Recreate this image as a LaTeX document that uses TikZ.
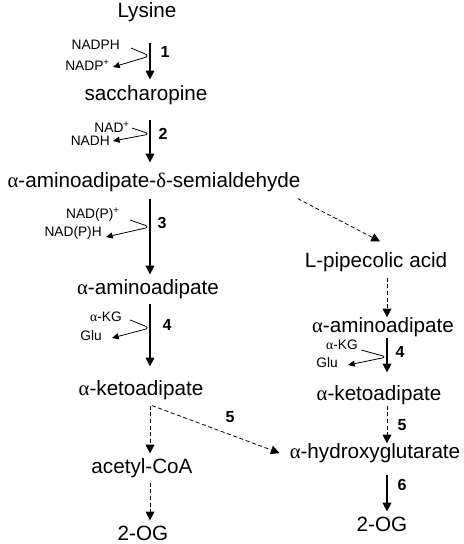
\documentclass[tikz,border=0pt]{standalone}
\usepackage{fontspec}
\setmainfont{Liberation Sans}
\newfontfamily\greekfont{Liberation Serif}
\usetikzlibrary{positioning,arrows.meta,calc}
\newcommand{\ga}{{\greekfont α}}
\newcommand{\gd}{{\greekfont δ}}

\begin{document}
\begin{tikzpicture}[x=0.75pt, y=-0.75pt,
  every node/.style={inner sep=0pt},
  met/.style={font=\fontsize{15.5}{18}\selectfont, text height=11pt, text depth=3pt},
  cof/.style={font=\fontsize{10.3}{12}\selectfont, anchor=east},
  num/.style={font=\bfseries\fontsize{12}{14}\selectfont},
  rxn/.style={-{Triangle[length=6.5pt,width=6.5pt]}, line width=0.8pt},
  side/.style={-{Triangle[length=5pt,width=4.5pt]}, line width=0.6pt, rounded corners=4pt},
  pred/.style={-{Triangle[length=6.5pt,width=6.5pt]}, line width=0.6pt, dash pattern=on 3pt off 2pt}]
  \useasboundingbox (0,0) rectangle (464,544);
  \coordinate (lx) at (150,0);
  \coordinate (rx) at (387,0);

  % left column
  \node[met] (lys) at (147,12) {Lysine};
  \node[met] (sac) at (146,95) {saccharopine};
  \node[met] (semi) at (154,182) {\ga-aminoadipate-\gd-semialdehyde};
  \node[met] (aad) at (148,289) {\ga-aminoadipate};
  \node[met] (kad) at (141,390) {\ga-ketoadipate};
  \node[met] (acoa) at (142,468) {acetyl-CoA};
  \node[met] (og) at (143,535) {2-OG};

  % right column
  \node[met] (pip) at (376,262) {L-pipecolic acid};
  \node[met] (raad) at (383,327) {\ga-aminoadipate};
  \node[met] (rkad) at (379,395) {\ga-ketoadipate};
  \node[met] (hyd) at (375,453) {\ga-hydroxyglutarate};
  \node[met] (rog) at (382,526) {2-OG};

  % cofactors
  \node[cof] (nadph) at (120,45) {NADPH};
  \node[cof] (nadp) at (110,65) {NADP\textsuperscript{+}};
  \node[cof] (nadox) at (130,127) {NAD\textsuperscript{+}};
  \node[cof] (nadh) at (110,141) {NADH};
  \node[cof] (naddpox) at (120,215) {NAD(P)\textsuperscript{+}};
  \node[cof] (naddph) at (102,233) {NAD(P)H};
  \node[cof] (akg) at (122,317) {\ga-KG};
  \node[cof] (glu) at (102,336) {Glu};
  \node[cof] (rakg) at (358,345) {\ga-KG};
  \node[cof] (rglu) at (338,363) {Glu};

  % enzyme numbers
  \node[num] (e1) at (165,52) {1};
  \node[num] (e2) at (163,134) {2};
  \node[num] (e3) at (162,223) {3};
  \node[num] (e4) at (167,325) {4};
  \node[num] (re4) at (400,352) {4};
  \node[num] (e5) at (230,417) {5};
  \node[num] (re5) at (402,425) {5};
  \node[num] (e6) at (402,485) {6};

  % main pathway
  \draw[rxn] ($(lx |- lys.south)+(0,21)$) -- ($(lx |- sac.north)+(0,-6)$);
  \draw[rxn] ($(lx |- sac.south)+(0,15)$) -- ($(lx |- semi.north)+(0,-10)$);
  \draw[rxn] ($(lx |- semi.south)+(0,7)$) -- ($(lx |- aad.north)+(0,-5)$);
  \draw[rxn] ($(lx |- aad.south)+(0,5)$) -- ($(lx |- kad.north)+(0,-14)$);
  \draw[pred] ($(lx |- kad.south)+(0,6)$) -- ($(lx |- acoa.north)+(0,-5)$);
  \draw[pred] ($(lx |- acoa.south)+(0,5)$) -- ($(lx |- og.north)+(0,-5)$);
  \draw[pred] ($(lx |- kad.south)+(2,6)$) -- ($(hyd.west)+(-10,0)$);

  % pipecolate branch
  \draw[pred] ($(semi.south east)+(-3,7)$) -- ($(pip.north)+(4,-11)$);
  \draw[pred] ($(rx |- pip.south)+(0,6)$) -- (rx |- raad.north);
  \draw[rxn] ($(rx |- raad.south)+(0,1)$) -- ($(rx |- rkad.north)+(0,-13)$);
  \draw[pred] ($(rx |- rkad.south)+(0,1)$) -- (rx |- hyd.north);
  \draw[rxn] ($(rx |- hyd.south)+(0,12)$) -- ($(rx |- rog.north)+(0,-5)$);

  % cofactor curves
  \draw[side] ($(nadph.east)+(11,3)$) -- ($(lx |- e1.center)+(0,4)$) -- ($(nadp.east)+(3,2)$);
  \draw[side] ($(nadox.east)+(2,1)$) -- (lx |- e2.center) -- ($(nadh.east)+(3,0)$);
  \draw[side] ($(naddpox.east)+(10,5)$) -- ($(lx |- e3.center)+(0,4)$) -- ($(naddph.east)+(4,4)$);
  \draw[side] ($(akg.east)+(8,3)$) -- ($(lx |- e4.center)+(0,3)$) -- ($(glu.east)+(10,2)$);
  \draw[side] ($(rakg.east)+(3,5)$) -- ($(rx |- re4.center)+(0,5)$) -- ($(rglu.east)+(10,2)$);
\end{tikzpicture}
\end{document}
